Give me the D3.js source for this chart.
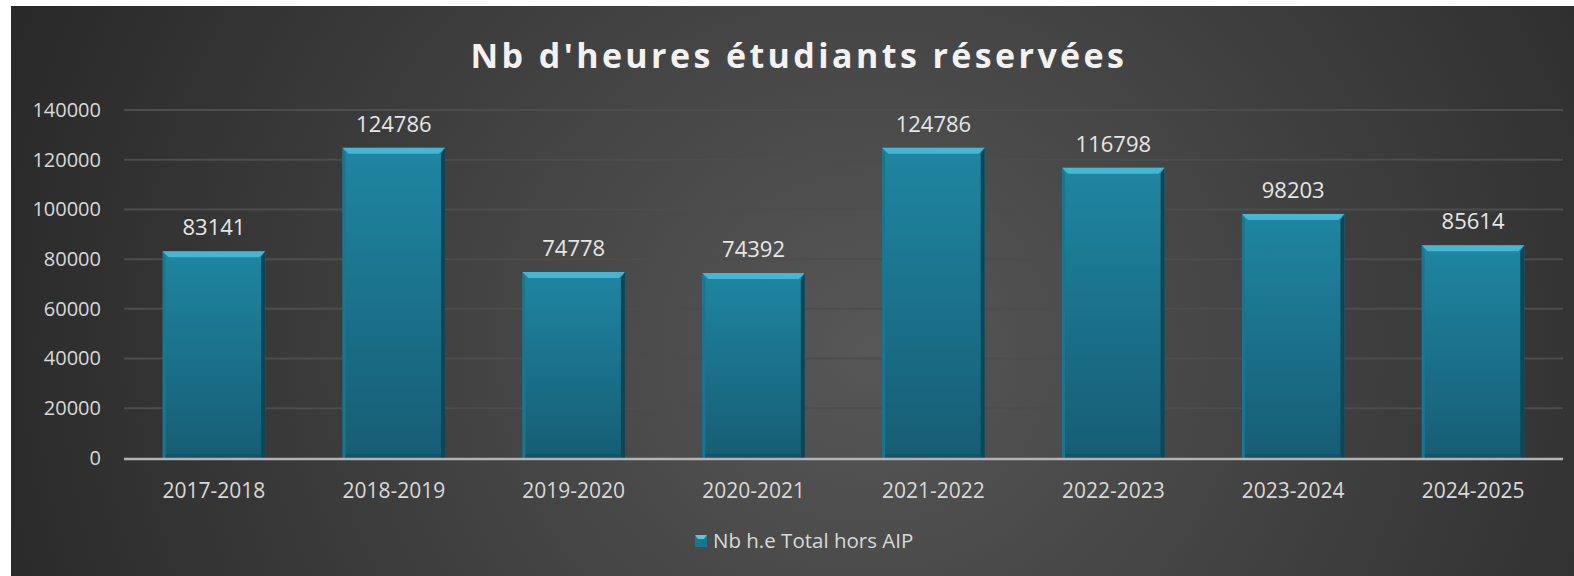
<!DOCTYPE html>
<html>
<head>
<meta charset="utf-8">
<script src="https://cdn.jsdelivr.net/npm/d3@7"></script>
<style>
  html, body { margin: 0; padding: 0; background: #fff; }
  svg { display: block; }
  text { font-family: "Open Sans", "Noto Sans", sans-serif; }
</style>
</head>
<body>
<div id="chart"></div>
<script>
var years = ["2017-2018", "2018-2019", "2019-2020", "2020-2021", "2021-2022", "2022-2023", "2023-2024", "2024-2025"];
var hours = [83141, 124786, 74778, 74392, 124786, 116798, 98203, 85614];
var yTicks = [0, 20000, 40000, 60000, 80000, 100000, 120000, 140000];
var seriesName = "Nb h.e Total hors AIP";
var title = "Nb d'heures étudiants réservées";

var width = 1574, height = 576;
var margin = {top: 110, right: 11, bottom: 118, left: 124};

var svg = d3.select("#chart").append("svg")
	.attr("width", width)
	.attr("height", height);

var defs = svg.append("defs");
var bg = defs.append("radialGradient").attr("id", "bg")
	.attr("cx", "0.55").attr("cy", "0.6").attr("r", "0.6")
	.attr("gradientTransform", "translate(0.55,0.6) scale(1,2.6) translate(-0.55,-0.6)");
bg.append("stop").attr("offset", "0").attr("stop-color", "#575757");
bg.append("stop").attr("offset", "1").attr("stop-color", "#282828");

var barGrad = defs.append("linearGradient").attr("id", "barg")
	.attr("x1", 0).attr("y1", 0).attr("x2", 0).attr("y2", 1);
barGrad.append("stop").attr("offset", "0").attr("stop-color", "#1f86a2");
barGrad.append("stop").attr("offset", "1").attr("stop-color", "#165d74");

// chart area (white strip on top and left like the screenshot)
svg.append("rect").attr("x", 11).attr("y", 6)
	.attr("width", width - 11).attr("height", height - 6)
	.attr("fill", "url(#bg)");

svg.append("text")
	.attr("x", 799).attr("y", 68)
	.attr("text-anchor", "middle")
	.attr("fill", "#f2f2f2")
	.attr("font-size", 34)
	.attr("font-weight", "bold")
	.attr("letter-spacing", 3.4)
	.text(title);

var x = d3.scaleBand().domain(years)
	.range([margin.left, width - margin.right])
	.paddingInner(0.43).paddingOuter(0.215);
var y = d3.scaleLinear().domain([0, 140000])
	.range([height - margin.bottom, margin.top]);

// gridlines
svg.append("g").selectAll("line")
	.data(yTicks.filter(function(d){ return d > 0; }))
	.enter().append("line")
	.attr("x1", margin.left).attr("x2", width - margin.right)
	.attr("y1", function(d){ return y(d); })
	.attr("y2", function(d){ return y(d); })
	.attr("stroke", "#4d4d4d")
	.attr("stroke-width", 2);

// y axis labels
var yAxis = svg.append("g")
	.attr("transform", "translate(" + (margin.left - 23) + ",0)")
	.call(d3.axisLeft(y).tickValues(yTicks).tickSize(0).tickPadding(0).tickFormat(d3.format("d")));
yAxis.select(".domain").remove();
yAxis.selectAll("text")
	.attr("fill", "#d9d9d9")
	.attr("font-size", 20)
	.style("font-family", "'Open Sans', sans-serif");

// bars
var bars = svg.append("g").selectAll("g")
	.data(years.map(function(d, i){ return {year: d, v: hours[i]}; }))
	.enter().append("g");

bars.append("rect")
	.attr("x", function(d){ return x(d.year); })
	.attr("y", function(d){ return y(d.v); })
	.attr("width", x.bandwidth())
	.attr("height", function(d){ return y(0) - y(d.v); })
	.attr("fill", "url(#barg)");

var bev = 6;
// top bevel
bars.append("path")
	.attr("d", function(d){
		var x0 = x(d.year), x1 = x0 + x.bandwidth(), t = y(d.v);
		return "M" + x0 + "," + t + "L" + x1 + "," + t + "L" + (x1 - bev) + "," + (t + bev) + "L" + (x0 + bev) + "," + (t + bev) + "Z";
	})
	.attr("fill", "#45b6d3");
// left bevel
bars.append("path")
	.attr("d", function(d){
		var x0 = x(d.year), t = y(d.v), b = y(0);
		return "M" + x0 + "," + t + "L" + (x0 + 3) + "," + (t + bev) + "L" + (x0 + 3) + "," + b + "L" + x0 + "," + b + "Z";
	})
	.attr("fill", "#1a7690");
// right bevel (shadow)
bars.append("path")
	.attr("d", function(d){
		var x1 = x(d.year) + x.bandwidth(), t = y(d.v), b = y(0);
		return "M" + x1 + "," + t + "L" + (x1 - 4) + "," + (t + bev) + "L" + (x1 - 4) + "," + b + "L" + x1 + "," + b + "Z";
	})
	.attr("fill", "#0f4555");
// bottom bevel
bars.append("rect")
	.attr("x", function(d){ return x(d.year) + 3; })
	.attr("y", y(0) - 4)
	.attr("width", x.bandwidth() - 7)
	.attr("height", 4)
	.attr("fill", "#12536a");

// value labels
bars.append("text")
	.attr("x", function(d){ return x(d.year) + x.bandwidth() / 2; })
	.attr("y", function(d){ return y(d.v) - 16; })
	.attr("text-anchor", "middle")
	.attr("fill", "#e6e6e6")
	.attr("font-size", 22)
	.text(function(d){ return d.v; });

// x axis
svg.append("line")
	.attr("x1", margin.left).attr("x2", width - margin.right)
	.attr("y1", y(0) + 1).attr("y2", y(0) + 1)
	.attr("stroke", "#b3b3b3").attr("stroke-width", 2.5);

var xAxis = svg.append("g")
	.attr("transform", "translate(0," + (y(0) + 40) + ")")
	.call(d3.axisBottom(x).tickSize(0).tickPadding(0));
xAxis.select(".domain").remove();
xAxis.selectAll("text")
	.attr("fill", "#d9d9d9")
	.attr("font-size", 21)
	.attr("dy", 0)
	.style("font-family", "'Open Sans', sans-serif");

// legend
var lg = svg.append("g").attr("transform", "translate(695,541)");
lg.append("rect").attr("x", 0).attr("y", -6).attr("width", 12).attr("height", 12).attr("fill", "#1a7690");
lg.append("path").attr("d", "M0,-6L12,-6L9,-2L3,-2Z").attr("fill", "#58c6e0");
lg.append("text").attr("x", 18).attr("y", 0).attr("dy", "0.35em")
	.attr("fill", "#d9d9d9").attr("font-size", 20.5)
	.text(seriesName);
</script>
</body>
</html>
